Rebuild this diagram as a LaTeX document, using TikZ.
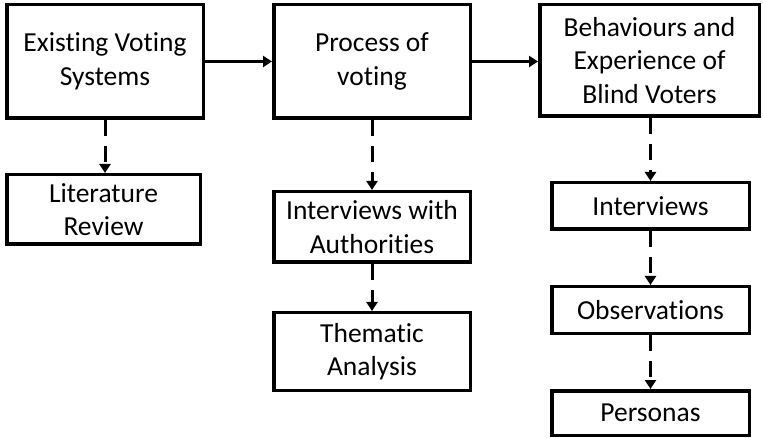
\documentclass[tikz,border=0pt]{standalone}
\usepackage{fontspec}
\setmainfont{Carlito}[Ligatures={NoCommon,NoRequired,NoContextual}]
\usetikzlibrary{arrows.meta}
\begin{document}
\begin{tikzpicture}[x=1pt,y=-1pt,
  box/.style={draw, line width=3.5pt, inner sep=0pt, align=center,
    font=\fontsize{27.5}{33.5}\selectfont},
  flow/.style={line width=3pt, -{Triangle[length=9pt,width=11pt]}},
  dflow/.style={flow, dash pattern=on 16pt off 10pt}]
\useasboundingbox (0,0) rectangle (763,438);

% top row: the three research areas
\node[box, minimum width=196.5pt, minimum height=113.5pt] (evs) at (105,61.5) {Existing Voting\\Systems};
\node[box, minimum width=196.5pt, minimum height=113.5pt] (pov) at (372,61.5) {Process of\\voting};
\node[box, minimum width=219.5pt, minimum height=111.5pt] (bvb) at (649.5,60.5) {Behaviours and\\Experience of\\Blind Voters};

% methods under each area
\node[box, minimum width=193.5pt, minimum height=69.5pt] (lit) at (103.5,209.5) {Literature\\Review};
\node[box, minimum width=196.5pt, minimum height=70.5pt] (iwa) at (372,227) {Interviews with\\Authorities};
\node[box, minimum width=196.5pt, minimum height=77.5pt] (tha) at (372,351.5) {Thematic\\Analysis};
\node[box, minimum width=197.5pt, minimum height=46.5pt] (int) at (650.5,206) {Interviews};
\node[box, minimum width=197.5pt, minimum height=46.5pt] (obs) at (650.5,310) {Observations};
\node[box, minimum width=197.5pt, minimum height=44.5pt] (per) at (650.5,413) {Personas};

% solid flow between areas
\draw[flow] (evs.east) -- (pov.west);
\draw[flow] (pov.east) -- (pov.east -| bvb.west);

% dashed flow down to methods
\draw[dflow] (evs.south) -- (evs.south |- lit.north);
\draw[dflow] (pov.south) -- (iwa.north);
\draw[dflow] (iwa.south) -- (tha.north);
\draw[dflow] (int.north |- bvb.south) -- (int.north);
\draw[dflow] (int.south) -- (obs.north);
\draw[dflow] (obs.south) -- (per.north);
\end{tikzpicture}
\end{document}
